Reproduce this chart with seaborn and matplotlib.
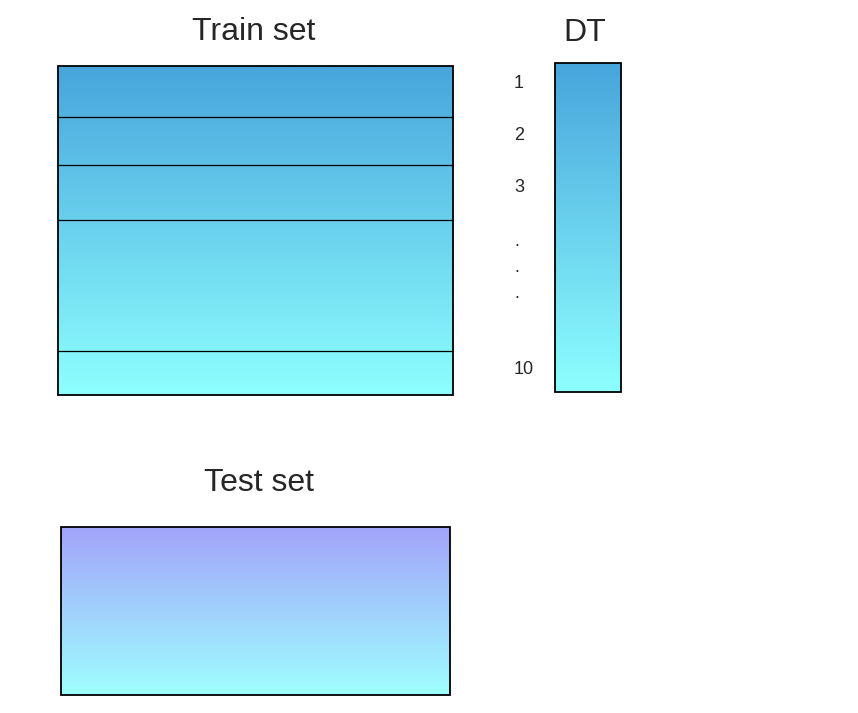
import matplotlib
matplotlib.use("Agg")
import matplotlib.pyplot as plt
import numpy as np
import seaborn as sns
from matplotlib.colors import LinearSegmentedColormap, to_rgb

sns.set_style("white")
plt.rcParams["font.family"] = ["Liberation Sans", "DejaVu Sans"]

# diagram content
train_title = "Train set"
test_title = "Test set"
dt_title = "DT"
dt_labels = ["1", "2", "3", ".", ".", ".", "10"]
dt_label_y = [84, 136, 188, 242, 268, 294, 370]
train_splits = [117, 165, 220, 351]
train_colors = ["#47a5dc", "#8effff"]
test_colors = ["#a3a3fa", "#9effff"]

fig = plt.figure(figsize=(8.58, 7.13), dpi=100)
ax = fig.add_axes([0, 0, 1, 1])
ax.set_xlim(0, 858)
ax.set_ylim(713, 0)
ax.axis("off")


def grad_box(x0, x1, y0, y1, colors):
    cmap = LinearSegmentedColormap.from_list("g", [to_rgb(c) for c in colors])
    grad = np.linspace(0, 1, 256).reshape(-1, 1)
    ax.imshow(grad, cmap=cmap, aspect="auto", extent=(x0, x1, y1, y0), zorder=1)
    ax.add_patch(plt.Rectangle((x0, y0), x1 - x0, y1 - y0, fill=False,
                               edgecolor="black", lw=1.3, zorder=3))


grad_box(58, 453, 66, 395, train_colors)
for y in train_splits:
    ax.plot([58, 453], [y, y], color="black", lw=0.9, zorder=2)
grad_box(555, 621, 63, 392, train_colors)
grad_box(61, 450, 527, 695, test_colors)

ax.text(254, 32, train_title, fontsize=23, ha="center", va="center")
ax.text(585, 33, dt_title, fontsize=23, ha="center", va="center")
ax.text(259, 483, test_title, fontsize=23, ha="center", va="center")
for lab, y in zip(dt_labels, dt_label_y):
    ax.text(514, y, lab, fontsize=13, ha="left", va="center")

ax.set_xlim(0, 858)
ax.set_ylim(713, 0)
fig.savefig("out.png", dpi=100)
